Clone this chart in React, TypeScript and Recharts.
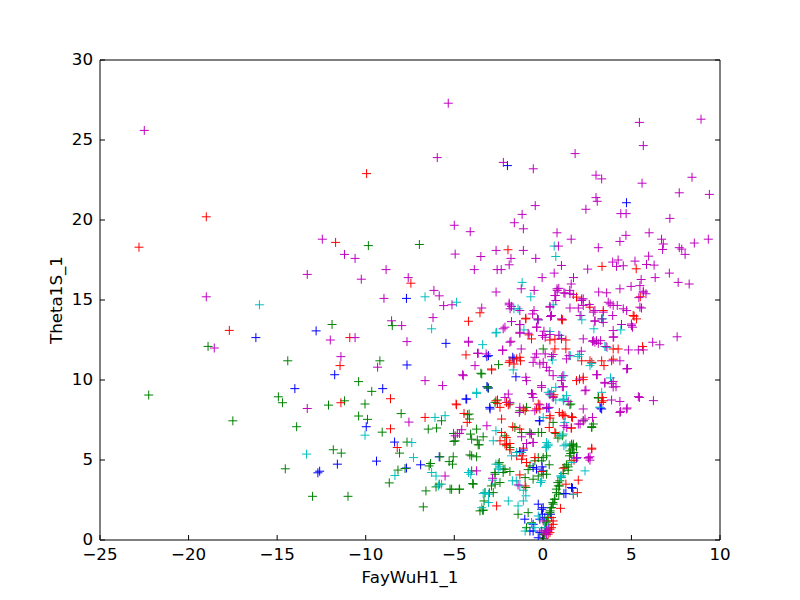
import { ScatterChart, Scatter, XAxis, YAxis } from 'recharts';

const xTicks = [-25, -20, -15, -10, -5, 0, 5, 10];
const yTicks = [0, 5, 10, 15, 20, 25, 30];

const bluePts = [
  [-16.2, 12.65], [-12.8, 13.07], [-11.75, 10.33], [-14.0, 9.46], [-9.04, 9.46], [-9.97, 7.08], [-8.37, 6.12],
  [-9.39, 4.93], [-7.7, 4.5], [-11.6, 4.74], [-12.7, 4.2], [-12.6, 4.3], [-7.67, 10.94], [-7.7, 15.1],
  [-2.0, 23.4], [4.72, 21.08], [-5.47, 12.29], [-3.07, 9.5], [-3.16, 9.58], [-4.3, 8.81], [-2.98, 8.19],
  [-3.0, 8.29], [-6.9, 4.7], [-5.85, 5.2], [-4.34, 8.81], [3.26, 8.25], [0.21, 8.25], [0.3, 8.25], [-0.2, 7.45],
  [1.9, 5.12], [1.67, 3.24], [1.19, 2.9], [-0.26, 2.24], [-1.02, 1.3], [-0.55, 0.98], [-0.73, 0.56], [-0.02, 1.61],
  [-0.07, 1.92], [0.02, 4.32], [-0.55, 4.53], [-0.36, 4.43], [-0.04, 4.57], [-1.3, 5.53], [-1.1, 5.62],
  [-3.07, 11.52], [-3.16, 11.46], [-1.7, 11.42], [-1.63, 11.32], [-1.52, 10.2], [0.02, 2.02], [-0.17, 1.3],
  [0.11, 1.4], [0.43, 1.61], [-0.55, 0.56], [-0.17, 0.46], [0.3, 0.77], [-0.26, 0.14], [1.62, 3.28], [1.3, 2.9],
  [-0.17, 7.45], [3.32, 8.19],
];

const greenPts = [
  [-22.25, 9.06], [-18.9, 12.1], [-17.5, 7.45], [-11.9, 13.47], [-9.85, 18.4], [-6.97, 18.47], [-14.4, 11.2],
  [-14.93, 8.95], [-14.7, 8.58], [-13.9, 7.08], [-12.1, 8.43], [-11.2, 8.7], [-10.4, 9.9], [-9.66, 9.29],
  [-10.04, 8.5], [-10.4, 7.75], [-9.9, 7.54], [-9.07, 6.74], [-8.0, 7.9], [-8.09, 5.43], [-7.67, 6.12],
  [-8.18, 4.37], [-7.78, 4.47], [-8.67, 3.57], [-11.83, 5.64], [-11.38, 5.43], [-14.54, 4.45], [-13.0, 2.73],
  [-11.0, 2.73], [-8.5, 13.4], [-9.2, 11.2], [3.13, 8.91], [2.76, 7.08], [2.28, 7.45], [1.58, 8.5], [0.58, 7.35],
  [-0.07, 6.72], [0.73, 6.66], [1.1, 6.51], [0.85, 6.37], [1.53, 5.89], [1.72, 5.99], [1.9, 5.82], [1.67, 5.68],
  [1.57, 5.41], [1.33, 4.7], [1.24, 4.53], [1.43, 4.57], [0.85, 3.59], [0.94, 3.38], [0.76, 3.18], [0.9, 2.86],
  [0.65, 2.55], [0.56, 2.34], [0.47, 2.02], [0.41, 1.82], [0.28, 1.4], [0.19, 1.08], [0.15, 0.77], [0.1, 0.36],
  [0.04, 0.1], [-1.4, 1.61], [-0.83, 1.71], [-0.64, 1.08], [-0.92, 0.77], [-3.36, 1.86], [-2.8, 2.96],
  [-2.9, 3.38], [-3.55, 1.82], [-6.75, 2.07], [-6.6, 3.07], [-6.03, 3.32], [-5.85, 3.49], [-5.24, 3.18],
  [-4.7, 3.18], [-3.96, 3.53], [-2.7, 3.49], [-2.42, 3.59], [-2.14, 4.43], [-1.86, 4.28], [-2.7, 4.11],
  [-2.24, 4.22], [-1.0, 3.9], [-0.96, 3.28], [-0.55, 3.8], [-0.26, 4.0], [0.02, 4.11], [0.21, 4.11],
  [-0.73, 4.63], [-0.45, 4.95], [-0.26, 5.15], [-0.07, 4.95], [0.02, 5.15], [0.21, 5.26], [0.36, 4.7],
  [-0.83, 4.4], [-2.05, 5.89], [-1.86, 5.78], [-2.14, 6.51], [-1.58, 7.03], [-1.2, 6.72], [-0.73, 6.72],
  [-0.26, 6.72], [-2.7, 8.6], [-2.56, 8.75], [-1.86, 8.5], [-1.3, 8.08], [-0.92, 8.29], [-3.1, 9.5],
  [-2.5, 10.96], [-3.5, 10.42], [-4.25, 7.83], [-4.14, 7.56], [-5.04, 6.66], [-4.95, 6.2], [-3.74, 6.93],
  [-3.65, 5.95], [-4.02, 6.3], [-3.37, 6.45], [-6.47, 6.93], [-6.0, 7.0], [-5.72, 7.45], [-5.81, 5.2],
  [-5.06, 5.2], [-4.02, 5.26], [-3.74, 5.2], [-6.34, 4.78], [-6.42, 4.63], [-5.1, 4.74], [0.02, 11.94],
  [-3.45, 10.38], [1.62, 5.99], [1.71, 5.89], [1.53, 5.57], [1.75, 5.47], [1.5, 5.26], [1.62, 4.95],
  [1.43, 4.36], [1.15, 4.15], [1.05, 3.9], [0.96, 3.7], [0.87, 3.38], [0.77, 2.96], [0.68, 2.55], [0.58, 2.24],
  [0.49, 2.02], [0.4, 1.71], [0.3, 1.4], [0.21, 1.19], [0.11, 0.77], [0.02, 0.36], [3.13, 8.87], [1.53, 8.45],
  [2.76, 7.03], [2.85, 7.25], [-3.13, 9.58], [-4.16, 7.87], [-5.02, 6.16], [-4.83, 6.66], [-4.08, 6.62],
  [-3.7, 6.25], [-3.59, 5.95], [-5.29, 4.9], [-4.12, 5.32], [-4.02, 4.32], [-5.15, 3.17], [-4.72, 3.17],
  [-3.93, 3.49], [-3.27, 2.96], [-3.02, 2.96], [-3.32, 2.44], [-3.4, 1.86], [-2.46, 4.84], [-2.24, 4.43],
  [-2.7, 4.22], [-2.52, 4.74],
];

const redPts = [
  [-22.8, 18.3], [-19.0, 20.2], [-17.7, 13.1], [-9.95, 22.9], [-11.7, 18.6], [-7.45, 16.05], [-10.9, 12.65],
  [-11.45, 10.9], [-11.4, 8.58], [-8.6, 8.83], [-8.6, 6.95], [-8.22, 5.78], [-1.97, 18.14], [3.34, 17.1],
  [5.27, 16.95], [5.5, 15.2], [1.9, 15.18], [-3.55, 14.2], [-4.2, 13.67], [-0.96, 13.86], [1.1, 13.76],
  [2.66, 14.55], [3.41, 14.34], [5.15, 13.99], [4.25, 11.94], [3.97, 11.94], [3.97, 11.3], [2.66, 11.2],
  [2.76, 11.1], [3.32, 11.2], [2.19, 11.2], [2.28, 10.02], [1.9, 9.96], [3.41, 8.7], [3.37, 8.9], [1.67, 7.66],
  [1.6, 7.0], [1.25, 7.77], [1.1, 7.87], [0.93, 7.97], [0.62, 9.08], [0.4, 7.77], [0.36, 7.03], [2.76, 5.74],
  [1.76, 4.99], [2.0, 3.74], [1.72, 2.86], [1.95, 2.96], [1.0, 1.98], [0.58, 1.19], [0.49, 0.77], [0.4, 0.46],
  [0.3, 0.36], [-2.61, 2.13], [-1.3, 4.07], [-1.0, 3.38], [-0.07, 4.28], [-0.45, 5.15], [-0.92, 4.84],
  [-1.48, 5.26], [-1.14, 5.26], [-1.2, 5.05], [-1.1, 5.74], [-1.86, 5.64], [-2.14, 5.99], [-2.42, 6.2],
  [-2.05, 5.99], [-2.33, 6.72], [-1.7, 7.08], [-1.3, 6.93], [0.68, 6.72], [0.4, 7.62], [-2.65, 8.7],
  [-2.56, 8.54], [-2.42, 8.29], [-2.05, 8.6], [-1.95, 8.45], [-2.33, 7.56], [-2.05, 6.4], [-1.86, 6.03],
  [-1.1, 8.19], [-1.0, 8.08], [-0.26, 8.5], [-0.36, 8.19], [-4.34, 11.57], [-2.89, 10.63], [-4.87, 8.45],
  [-6.65, 7.66], [-4.27, 7.35], [-0.97, 13.82], [-0.78, 12.82], [-0.64, 12.57], [-1.86, 11.2], [-1.48, 11.32],
  [-1.26, 11.2], [-1.9, 11.1], [-1.3, 11.42], [-1.63, 11.0], [-2.9, 10.69], [1.08, 13.76], [5.1, 14.03],
  [5.29, 13.82], [0.4, 12.5], [0.68, 12.55], [1.05, 12.57], [1.3, 12.5], [5.63, 12.09], [0.68, 11.94],
  [1.3, 11.94], [3.45, 10.9], [2.28, 10.17], [-4.9, 8.5], [-4.45, 7.91], [3.32, 8.6], [1.15, 7.77], [1.62, 7.7],
  [1.62, 7.0], [-0.17, 8.19], [0.58, 8.96], [2.76, 5.68], [1.15, 4.49], [1.3, 3.49], [0.49, 1.4], [0.58, 0.98],
  [0.4, 0.67],
];

const cyanPts = [
  [-16.0, 14.7], [-10.04, 6.55], [-13.34, 5.37], [-8.35, 4.03], [0.64, 18.37], [0.73, 17.72], [-1.17, 16.1],
  [-6.65, 15.2], [-0.68, 15.2], [-4.87, 14.86], [-6.28, 13.2], [-1.4, 14.45], [0.58, 14.7], [-2.65, 12.94],
  [4.4, 13.13], [2.66, 10.9], [3.82, 10.13], [3.32, 9.23], [3.2, 8.3], [0.73, 8.75], [1.19, 8.79], [1.16, 8.7],
  [0.49, 9.29], [0.73, 9.54], [0.02, 7.66], [0.21, 5.82], [1.19, 5.89], [1.3, 5.99], [2.38, 4.32], [1.0, 4.0],
  [1.05, 3.9], [-1.0, 0.56], [-0.64, 1.02], [-0.96, 2.76], [-1.4, 2.13], [-1.1, 2.44], [-1.95, 2.44],
  [-3.07, 2.34], [-3.45, 2.02], [-3.26, 2.96], [-3.07, 2.86], [-5.72, 3.49], [-5.9, 3.38], [-3.37, 2.9],
  [-2.84, 3.74], [-2.52, 4.43], [-2.65, 4.74], [-2.42, 4.57], [-1.72, 3.7], [-1.5, 3.7], [-1.3, 3.38],
  [-0.13, 3.59], [-1.1, 3.11], [-1.48, 5.47], [-1.77, 5.26], [-1.2, 5.47], [-2.8, 6.2], [-2.65, 6.83],
  [0.17, 5.78], [0.3, 5.99], [-3.74, 9.23], [-3.4, 12.21], [-2.61, 12.98], [-6.09, 7.66], [-5.52, 7.77],
  [-7.4, 6.09], [-7.3, 5.15], [-6.28, 4.22], [-6.03, 4.0], [-4.2, 4.22], [-4.07, 4.11], [-1.63, 14.45],
  [-0.26, 13.76], [-1.07, 13.13], [-1.67, 10.63], [2.16, 14.03], [2.2, 13.76], [2.88, 13.2], [3.37, 13.82],
  [0.4, 13.03], [0.96, 12.78], [3.5, 12.09], [3.63, 12.04], [1.55, 11.52], [1.98, 11.46], [2.07, 11.59],
  [2.76, 11.04], [1.05, 10.17], [1.19, 10.27], [0.53, 11.25], [-0.26, 1.5], [-0.45, 0.77], [0.11, 0.77],
  [1.72, 2.86], [1.05, 4.0], [-0.07, 3.7], [0.3, 9.23], [0.4, 9.08], [1.15, 8.81], [1.33, 9.02], [1.24, 7.35],
  [0.96, 6.51], [1.15, 6.62], [0.21, 6.09], [0.3, 5.89], [1.62, 4.84], [-3.74, 9.16],
];

const magentaPts = [
  [-22.5, 25.6], [-19.0, 15.2], [-18.55, 12.0], [-13.3, 16.6], [-12.45, 18.8], [-11.2, 17.85], [-10.6, 17.6],
  [-10.25, 16.3], [-8.85, 16.9], [-8.97, 15.1], [-7.6, 16.4], [-13.3, 8.22], [-12.0, 12.5], [-10.6, 12.65],
  [-11.4, 11.46], [-8.54, 13.7], [-7.97, 13.4], [-7.67, 12.4], [-9.33, 10.8], [-7.56, 7.37],
  [-5.34, 27.3], [-5.96, 23.9], [-2.23, 23.6], [-0.54, 23.2], [1.82, 24.15], [5.45, 26.1], [5.67, 24.65],
  [8.93, 26.3], [3.0, 22.8], [3.32, 22.57], [5.6, 22.3], [8.42, 22.67], [7.7, 21.7], [9.4, 21.6], [3.0, 21.4],
  [3.07, 21.17], [2.43, 20.67], [-0.43, 20.9], [-1.17, 20.35], [-1.61, 19.83], [-1.1, 19.45], [-5.0, 19.67],
  [-4.1, 19.27], [4.4, 20.4], [4.7, 20.4], [7.17, 20.1], [0.8, 19.2], [1.6, 18.8], [4.35, 18.66], [4.69, 19.04],
  [6.0, 19.2], [6.7, 18.8], [6.8, 18.5], [6.76, 18.16], [7.7, 18.27], [7.84, 18.18], [8.55, 18.56], [9.34, 18.8],
  [8.03, 17.85], [3.13, 18.27], [0.88, 18.37], [-2.64, 18.1], [-1.1, 18.1], [-3.5, 17.72], [-4.95, 17.87],
  [-1.8, 17.6], [-1.9, 17.2], [-0.4, 17.6], [-3.87, 16.9], [-2.58, 16.9], [-2.35, 16.9], [1.05, 17.16],
  [2.53, 16.93], [3.94, 17.37], [4.25, 17.5], [4.16, 17.1], [4.54, 17.14], [5.2, 17.43], [5.85, 17.22],
  [6.28, 17.18], [5.97, 17.74], [7.14, 16.68], [7.64, 16.1], [8.26, 16.0], [6.34, 16.4], [5.55, 16.28],
  [4.98, 15.85], [5.67, 15.55], [5.42, 15.15], [3.15, 15.5], [3.6, 15.45], [1.73, 16.4], [1.6, 16.0],
  [1.52, 15.6], [0.64, 16.68], [-0.04, 16.4], [-1.22, 15.7], [-0.49, 15.6], [0.8, 15.7], [0.9, 15.73],
  [0.7, 15.28], [1.19, 15.45], [1.53, 15.39], [2.19, 15.07], [-6.15, 15.6], [-5.85, 15.26], [-2.64, 15.5],
  [-5.6, 14.65], [-5.13, 14.7], [-6.2, 13.9], [-3.45, 14.5], [-1.9, 14.7], [-1.85, 14.45], [-0.5, 14.34],
  [-0.58, 14.13], [0.4, 14.55], [-0.3, 13.82], [0.43, 13.97], [-0.36, 13.3], [-2.24, 13.2], [-2.14, 13.3],
  [-1.3, 13.47], [-1.3, 12.92], [-0.83, 12.92], [1.05, 13.82], [1.53, 14.5], [2.0, 14.5], [2.1, 14.03],
  [2.28, 14.66], [2.94, 13.67], [3.32, 13.82], [3.41, 14.24], [3.8, 14.76], [4.2, 14.66], [4.54, 14.45],
  [4.73, 14.34], [3.94, 14.03], [4.44, 13.47], [5.0, 13.5], [5.48, 14.55], [3.97, 13.09], [4.0, 12.7],
  [6.2, 12.36], [6.6, 12.2], [7.58, 12.7], [5.67, 11.88], [5.39, 11.88], [4.83, 11.88], [3.57, 12.09],
  [3.88, 11.2], [4.35, 11.2], [4.73, 10.69], [4.78, 10.72], [2.8, 12.42], [2.94, 12.36], [3.26, 12.46],
  [3.07, 10.33], [2.43, 9.37], [3.5, 9.85], [3.97, 9.91], [4.13, 9.58], [3.88, 8.75], [4.35, 8.66], [4.76, 8.25],
  [4.39, 8.04], [5.45, 8.91], [6.24, 8.71], [1.05, 9.96], [1.1, 9.58], [2.28, 8.19], [2.8, 7.66], [2.0, 7.25],
  [1.43, 8.66], [1.35, 7.03], [1.19, 7.14], [0.58, 8.9], [0.4, 9.12], [-0.07, 9.54], [1.16, 9.58], [-0.17, 8.45],
  [0.36, 8.29], [2.57, 5.15], [2.66, 5.2], [1.93, 5.15], [0.02, 1.19], [-0.07, 0.56], [0.13, 0.46], [0.21, 0.61],
  [-2.84, 3.86], [-1.4, 3.44], [-0.73, 6.62], [-0.55, 6.09], [-1.2, 6.45], [-0.92, 6.03], [-2.14, 8.91],
  [-1.95, 9.12], [-1.86, 8.6], [-1.3, 8.29], [-1.33, 7.97], [-0.45, 8.08], [0.21, 8.29], [-0.55, 8.91],
  [-0.64, 9.16], [-4.2, 12.36], [-3.65, 11.67], [-3.2, 11.63], [-3.83, 10.9], [-4.49, 10.27], [-5.66, 9.65],
  [-6.65, 9.96], [-2.27, 11.84], [-1.86, 12.36], [-0.92, 9.96], [0.13, 11.63], [-0.36, 11.63], [-5.52, 4.0],
  [-4.58, 6.89], [-3.16, 7.14], [-3.74, 4.32], [-4.95, 6.51], [-4.7, 6.66], [-1.9, 14.8], [-1.77, 14.6],
  [-1.3, 14.34], [-0.26, 13.76], [-1.77, 13.65], [-1.3, 13.46], [-1.3, 12.98], [-0.33, 13.3], [0.06, 13.05],
  [0.4, 12.84], [-4.2, 12.42], [-3.69, 11.67], [-2.27, 11.88], [-1.8, 12.42], [-1.22, 11.94], [-0.45, 11.42],
  [-0.55, 11.1], [-0.17, 11.0], [0.02, 11.1], [-4.53, 10.33], [-0.96, 10.17], [0.81, 15.6], [0.68, 15.28],
  [0.73, 14.97], [1.25, 15.42], [1.72, 15.34], [2.28, 15.07], [2.19, 14.97], [4.35, 15.7], [5.48, 15.9],
  [5.67, 15.49], [5.82, 15.39], [3.69, 14.86], [3.97, 14.66], [5.57, 14.5], [2.62, 14.72], [2.85, 14.24],
  [2.94, 14.34], [0.4, 14.6], [0.49, 14.03], [2.94, 13.7], [3.41, 13.6], [5.0, 13.4], [5.06, 13.3], [3.97, 12.67],
  [0.9, 12.8], [1.05, 12.6], [2.28, 12.57], [2.85, 12.46], [3.03, 12.46], [3.13, 12.29], [-0.02, 12.78],
  [0.13, 12.67], [0.49, 11.46], [0.58, 11.59], [1.33, 11.32], [1.48, 11.52], [2.17, 11.8], [3.03, 10.33],
  [2.07, 10.06], [1.13, 10.27], [0.58, 10.27], [0.36, 10.58], [0.21, 10.79], [2.57, 5.12], [2.66, 4.99],
  [2.28, 7.45], [2.38, 7.56], [2.1, 7.25], [-0.55, 6.1], [-0.07, 9.65], [-0.58, 9.12], [-0.64, 6.62], [2.38, 9.33],
  [3.5, 9.8], [3.88, 9.77], [3.97, 9.56], [4.35, 7.97], [4.73, 8.19], [5.39, 8.96], [0.21, 0.36], [0.3, 0.56],
];

const series = [
  { name: 'b', color: '#0000ff', pts: bluePts },
  { name: 'g', color: '#008000', pts: greenPts },
  { name: 'r', color: '#ff0000', pts: redPts },
  { name: 'c', color: '#00bfbf', pts: cyanPts },
  { name: 'm', color: '#bf00bf', pts: magentaPts },
];

const FONT = 'DejaVu Sans, sans-serif';
const FS = 16.7;

// matplotlib uses a real minus sign
const fmt = (v: number) => (v < 0 ? '\u2212' + Math.abs(v) : String(v));

const plus = (color: string) => (props: any) => {
  const { cx, cy } = props;
  if (cx == null || cy == null) return <g />;
  return (
    <path
      d={`M${cx - 4.5},${cy}H${cx + 4.5}M${cx},${cy - 4.5}V${cy + 4.5}`}
      stroke={color}
      strokeWidth={1}
      fill="none"
    />
  );
};

const BottomTick = ({ x, y, payload }: any) => (
  <g>
    <line x1={x} x2={x} y1={y} y2={y - 5} stroke="#000" />
    <text x={x} y={y + 20} textAnchor="middle" fontFamily={FONT} fontSize={FS} fill="#000">
      {fmt(payload.value)}
    </text>
  </g>
);

const TopTick = ({ x, y }: any) => <line x1={x} x2={x} y1={y} y2={y + 5} stroke="#000" />;

const LeftTick = ({ x, y, payload }: any) => (
  <g>
    <line x1={x} x2={x + 5} y1={y} y2={y} stroke="#000" />
    <text x={x - 7} y={y + 5} textAnchor="end" fontFamily={FONT} fontSize={FS} fill="#000">
      {fmt(payload.value)}
    </text>
  </g>
);

const RightTick = ({ x, y }: any) => <line x1={x} x2={x - 5} y1={y} y2={y} stroke="#000" />;

const YLabel = ({ viewBox }: any) => {
  const x = viewBox.x + viewBox.width - 38;
  const y = viewBox.y + viewBox.height / 2;
  return (
    <text x={x} y={y} transform={`rotate(-90 ${x} ${y})`} textAnchor="middle" fontFamily={FONT} fontSize={FS} fill="#000">
      Theta1S_1
    </text>
  );
};

const XLabel = ({ viewBox }: any) => (
  <text
    x={viewBox.x + viewBox.width / 2}
    y={viewBox.y + 43}
    textAnchor="middle"
    fontFamily={FONT}
    fontSize={FS}
    fill="#000"
  >
    FayWuH1_1
  </text>
);

export default function App() {
  return (
    <div style={{ position: 'absolute', left: 0, top: 0, width: 800, height: 600, background: '#fff' }}>
      <ScatterChart width={800} height={600} margin={{ top: 59, right: 79, bottom: 59, left: 99 }}>
        <XAxis
          xAxisId="b"
          type="number"
          dataKey="x"
          domain={[-25, 10]}
          ticks={xTicks}
          interval={0}
          allowDataOverflow
          height={1}
          tickSize={0}
          tickMargin={0}
          tickLine={false}
          axisLine={{ stroke: '#000' }}
          tick={BottomTick}
          label={{ content: XLabel }}
        />
        <XAxis
          xAxisId="t"
          orientation="top"
          type="number"
          domain={[-25, 10]}
          ticks={xTicks}
          interval={0}
          allowDataOverflow
          height={1}
          tickSize={0}
          tickMargin={0}
          tickLine={false}
          axisLine={{ stroke: '#000' }}
          tick={TopTick}
        />
        <YAxis
          yAxisId="l"
          type="number"
          dataKey="y"
          domain={[0, 30]}
          ticks={yTicks}
          interval={0}
          allowDataOverflow
          width={1}
          tickSize={0}
          tickMargin={0}
          tickLine={false}
          axisLine={{ stroke: '#000' }}
          tick={LeftTick}
          label={{ content: YLabel }}
        />
        <YAxis
          yAxisId="r"
          orientation="right"
          type="number"
          domain={[0, 30]}
          ticks={yTicks}
          interval={0}
          allowDataOverflow
          width={1}
          tickSize={0}
          tickMargin={0}
          tickLine={false}
          axisLine={{ stroke: '#000' }}
          tick={RightTick}
        />
        {series.map((s) => (
          <Scatter
            key={s.name}
            xAxisId="b"
            yAxisId="l"
            data={s.pts.map(([x, y]) => ({ x, y }))}
            shape={plus(s.color)}
            isAnimationActive={false}
          />
        ))}
      </ScatterChart>
    </div>
  );
}
